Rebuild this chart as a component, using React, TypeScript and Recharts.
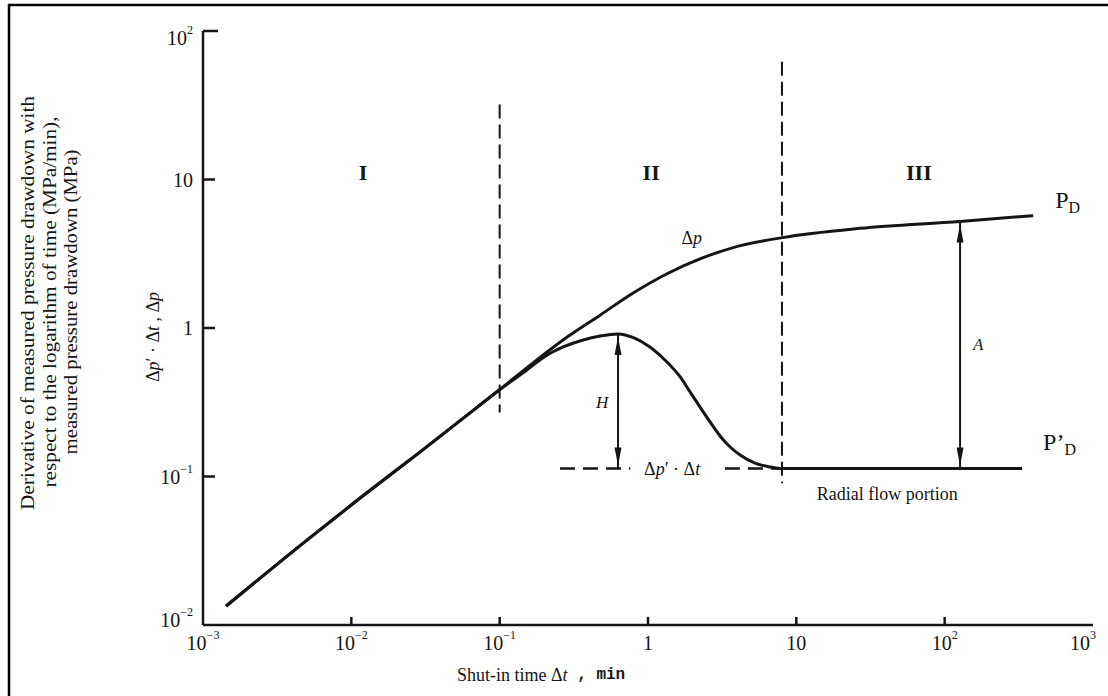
import { LineChart, Line, XAxis, YAxis, ReferenceLine, ReferenceDot } from "recharts"

// Δp: measured pressure drawdown (MPa) against shut-in time (min)
const dpTime = [0.00143, 0.00502, 0.01146, 0.029, 0.0631, 0.0959, 0.168, 0.285, 0.475, 0.794, 1.345, 2.24, 3.75, 8.02, 26.9, 127, 395]
const dpValue = [0.0134, 0.0373, 0.0716, 0.146, 0.268, 0.372, 0.582, 0.869, 1.22, 1.72, 2.32, 2.92, 3.48, 4.06, 4.69, 5.22, 5.71]

// Δp'·Δt: log-time derivative of the drawdown
const derTime = [0.00143, 0.00502, 0.01146, 0.029, 0.0631, 0.0959, 0.14, 0.219, 0.365, 0.475, 0.628, 0.805, 1.03, 1.3, 1.65, 1.92, 2.24, 2.62, 3.06, 3.58, 4.18, 5.27, 6.65, 8.15, 333]
const derValue = [0.0134, 0.0373, 0.0716, 0.146, 0.268, 0.372, 0.49, 0.676, 0.83, 0.883, 0.912, 0.857, 0.745, 0.609, 0.468, 0.371, 0.294, 0.233, 0.1875, 0.158, 0.1396, 0.123, 0.1159, 0.113, 0.113]

const xTicks = [0.001, 0.01, 0.1, 1, 10, 100, 1000]
const yTicks = [0.01, 0.1, 1, 10, 100]

// flow periods and the dashed boundaries between them
const periodNames = ["I", "II", "III"]
const periodLabelTime = [0.012, 1.05, 67]
const periodLabelLevel = 11.2
const boundaryTime = [0.1, 8]
const boundaryTop = [32, 62]
const boundaryBottom = [0.27, 0.09]

// where the A arrow is drawn
const aTime = 127

const dpRows = dpTime.map((t, i) => ({ t, v: dpValue[i] }))
const derRows = derTime.map((t, i) => ({ t, v: derValue[i] }))

const plateau = derValue[derValue.length - 1]
const peakIdx = derValue.indexOf(Math.max(...derValue))
const peakTime = derTime[peakIdx]
const peakValue = derValue[peakIdx]
const aValue = dpValue[dpTime.indexOf(aTime)]

const INK = "#151515"
const SERIF = "'Liberation Serif', 'Times New Roman', serif"
const W = 1108
const H = 696
const Y_MARGIN = 10
const X_MARGIN = 18

function powerParts(v: number) {
  const e = Math.round(Math.log10(v))
  if (e === 0) return { base: "1", exp: "" }
  if (e === 1) return { base: "10", exp: "" }
  return { base: "10", exp: e < 0 ? "−" + -e : String(e) }
}

function PowerLabel({ x, y, v, anchor }: { x: number; y: number; v: number; anchor: string }) {
  const { base, exp } = powerParts(v)
  return (
    <text x={x} y={y} textAnchor={anchor} dominantBaseline="central" fontFamily={SERIF} fontSize={20} fill={INK}>
      {base}
      {exp && (
        <tspan dy={-8} fontSize={12}>
          {exp}
        </tspan>
      )}
    </text>
  )
}

function YTick(props: any) {
  const { x, y, payload } = props
  const v = payload.value
  const axisX = x + Y_MARGIN
  const shift = v === 100 ? 7 : v === 0.01 ? -5 : 0
  return (
    <g>
      {v > 0.01 && (
        <line x1={axisX} x2={axisX + (v === 100 ? 15 : 12)} y1={y} y2={y} stroke={INK} strokeWidth={2.5} />
      )}
      <PowerLabel x={x} y={y + shift} v={v} anchor="end" />
    </g>
  )
}

function XTick(props: any) {
  const { x, y, payload } = props
  const v = payload.value
  const axisY = y - X_MARGIN
  const inner = v > 0.001 && v < 1000
  return (
    <g>
      {inner && <line x1={x} x2={x} y1={axisY} y2={axisY - 8} stroke={INK} strokeWidth={2.5} />}
      <PowerLabel x={v === 1000 ? x - 10 : x} y={y} v={v} anchor="middle" />
    </g>
  )
}

// vertical double-headed arrow between two curves
function DoubleArrow(p: any) {
  const x = p.x1
  const top = Math.min(p.y1, p.y2) + 3
  const bot = Math.max(p.y1, p.y2) - 3
  return (
    <g>
      <line x1={x} x2={x} y1={top - 3} y2={bot + 3} stroke={INK} strokeWidth={2} />
      <path d={`M${x},${top} l-3.5,18 l7,0 z`} fill={INK} />
      <path d={`M${x},${bot} l-3.5,-18 l7,0 z`} fill={INK} />
    </g>
  )
}

const textAt = (body: (cx: number, cy: number) => any) => (p: any) => body(p.cx, p.cy)

export default function App() {
  return (
    <div style={{ position: "absolute", left: 0, top: 0, width: W, height: H, background: "#fff" }}>
      <LineChart width={W} height={H} margin={{ top: 31, right: 15, bottom: 41, left: 143 }}>
        <XAxis
          dataKey="t"
          type="number"
          scale="log"
          domain={[0.001, 1000]}
          ticks={xTicks}
          interval={0}
          allowDataOverflow
          height={30}
          tickSize={0}
          tickMargin={X_MARGIN}
          tickLine={false}
          axisLine={{ stroke: INK, strokeWidth: 2.5 }}
          tick={<XTick />}
        />
        <YAxis
          type="number"
          scale="log"
          domain={[0.01, 100]}
          ticks={yTicks}
          interval={0}
          allowDataOverflow
          width={60}
          tickSize={0}
          tickMargin={Y_MARGIN}
          tickLine={false}
          axisLine={{ stroke: INK, strokeWidth: 2.5 }}
          tick={<YTick />}
        />

        {boundaryTime.map((t, i) => (
          <ReferenceLine
            key={"b" + i}
            segment={[{ x: t, y: boundaryTop[i] }, { x: t, y: boundaryBottom[i] }]}
            stroke={INK}
            strokeWidth={2}
            strokeDasharray="14 6"
          />
        ))}

        {/* dashed extension of the radial-flow plateau back to the hump */}
        <ReferenceLine segment={[{ x: 0.255, y: plateau }, { x: 0.76, y: plateau }]} stroke={INK} strokeWidth={2.5} strokeDasharray="15 8" />
        <ReferenceLine segment={[{ x: 3.3, y: plateau }, { x: 8, y: plateau }]} stroke={INK} strokeWidth={2.5} strokeDasharray="15 8" />

        <Line data={dpRows} dataKey="v" type="monotone" dot={false} stroke={INK} strokeWidth={3} isAnimationActive={false} />
        <Line data={derRows} dataKey="v" type="monotone" dot={false} stroke={INK} strokeWidth={3} isAnimationActive={false} />

        <ReferenceLine segment={[{ x: peakTime, y: peakValue }, { x: peakTime, y: plateau }]} shape={DoubleArrow} />
        <ReferenceLine segment={[{ x: aTime, y: aValue }, { x: aTime, y: plateau }]} shape={DoubleArrow} />

        {periodNames.map((name, i) => (
          <ReferenceDot
            key={name}
            x={periodLabelTime[i]}
            y={periodLabelLevel}
            r={0}
            shape={textAt((cx, cy) => (
              <text x={cx} y={cy} textAnchor="middle" dominantBaseline="central" fontFamily={SERIF} fontSize={22} fontWeight="bold" fill={INK}>
                {name}
              </text>
            ))}
          />
        ))}

        <ReferenceDot
          x={1.97}
          y={4.04}
          r={0}
          shape={textAt((cx, cy) => (
            <text x={cx} y={cy} textAnchor="middle" dominantBaseline="central" fontFamily={SERIF} fontSize={18} fill={INK}>
              Δ<tspan fontStyle="italic">p</tspan>
            </text>
          ))}
        />
        <ReferenceDot
          x={0.49}
          y={0.313}
          r={0}
          shape={textAt((cx, cy) => (
            <text x={cx} y={cy} textAnchor="middle" dominantBaseline="central" fontFamily={SERIF} fontSize={17} fontStyle="italic" fill={INK}>
              H
            </text>
          ))}
        />
        <ReferenceDot
          x={168}
          y={0.78}
          r={0}
          shape={textAt((cx, cy) => (
            <text x={cx} y={cy} textAnchor="middle" dominantBaseline="central" fontFamily={SERIF} fontSize={17} fontStyle="italic" fill={INK}>
              A
            </text>
          ))}
        />
        <ReferenceDot
          x={1.455}
          y={plateau}
          r={0}
          shape={textAt((cx, cy) => (
            <text x={cx} y={cy} textAnchor="middle" dominantBaseline="central" fontFamily={SERIF} fontSize={18} fill={INK}>
              Δ<tspan fontStyle="italic">p</tspan>′ · Δ<tspan fontStyle="italic">t</tspan>
            </text>
          ))}
        />
        <ReferenceDot
          x={41}
          y={0.076}
          r={0}
          shape={textAt((cx, cy) => (
            <text x={cx} y={cy} textAnchor="middle" dominantBaseline="central" fontFamily={SERIF} fontSize={18} fill={INK}>
              Radial flow portion
            </text>
          ))}
        />
        <ReferenceDot
          x={556}
          y={6.43}
          r={0}
          shape={textAt((cx, cy) => (
            <text x={cx} y={cy} fontFamily={SERIF} fontSize={24} fill={INK}>
              P<tspan dy={5} fontSize={16}>D</tspan>
            </text>
          ))}
        />
        <ReferenceDot
          x={461}
          y={0.151}
          r={0}
          shape={textAt((cx, cy) => (
            <text x={cx} y={cy} fontFamily={SERIF} fontSize={24} fill={INK}>
              P’<tspan dy={5} fontSize={16}>D</tspan>
            </text>
          ))}
        />
      </LineChart>

      {/* axis titles and page frame */}
      <svg width={W} height={H} style={{ position: "absolute", left: 0, top: 0, pointerEvents: "none" }}>
        <line x1={9} x2={9} y1={4} y2={H} stroke="#000" strokeWidth={2.5} />
        <line x1={8} x2={W} y1={5} y2={5} stroke="#000" strokeWidth={2.5} />

        <g fontFamily={SERIF} fontSize={19} fill={INK}>
          <text transform="translate(27,303) rotate(-90)" textAnchor="middle" dominantBaseline="central" textLength={414} lengthAdjust="spacingAndGlyphs">
            Derivative of measured pressure drawdown with
          </text>
          <text transform="translate(49,302) rotate(-90)" textAnchor="middle" dominantBaseline="central" textLength={371} lengthAdjust="spacingAndGlyphs">
            respect to the logarithm of time (MPa/min),
          </text>
          <text transform="translate(70,302) rotate(-90)" textAnchor="middle" dominantBaseline="central" textLength={305} lengthAdjust="spacingAndGlyphs">
            measured pressure drawdown (MPa)
          </text>
        </g>
        <text transform="translate(153,337) rotate(-90)" textAnchor="middle" dominantBaseline="central" fontFamily={SERIF} fontSize={18} fill={INK}>
          Δ<tspan fontStyle="italic">p</tspan>′ · Δ<tspan fontStyle="italic">t</tspan> , Δ<tspan fontStyle="italic">p</tspan>
        </text>
        <text x={457} y={675} dominantBaseline="central" fontFamily={SERIF} fontSize={18} fill={INK}>
          Shut-in time Δ<tspan fontStyle="italic">t</tspan>
          <tspan fontFamily="'Liberation Mono', monospace" fontSize={16} fontWeight="bold"> , min</tspan>
        </text>
      </svg>
    </div>
  )
}
